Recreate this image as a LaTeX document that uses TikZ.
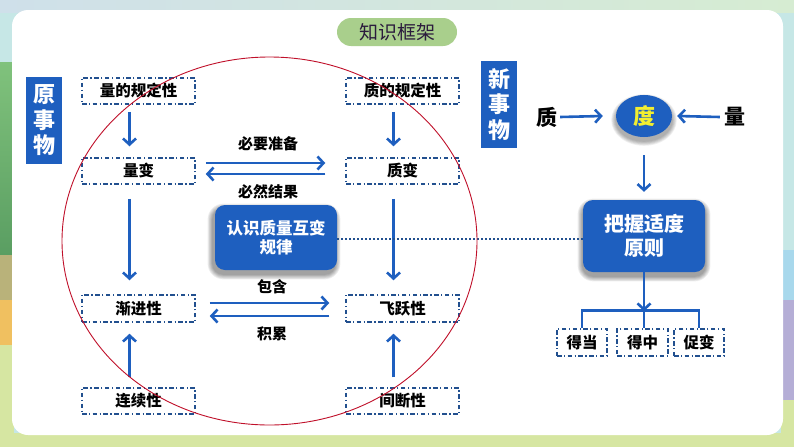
\documentclass[tikz,border=0pt]{standalone}
\usepackage{fontspec}
\setmainfont{Noto Sans CJK SC}[BoldFont={Noto Sans CJK SC Black}]
\usetikzlibrary{arrows.meta,shapes.geometric}

\definecolor{mblue}{HTML}{1E5FBF}
\definecolor{dblue}{HTML}{22508F}
\definecolor{pillc}{HTML}{A9CF8C}
\definecolor{redc}{HTML}{C0102A}
\definecolor{duyel}{HTML}{F2EE30}
\definecolor{titc}{HTML}{2B1B3D}
\definecolor{bgA}{HTML}{C6E7E6}
\definecolor{bgTopL}{HTML}{CFE0EA}
\definecolor{bgTopR}{HTML}{D6ECD2}
\definecolor{grnT}{HTML}{80C27C}
\definecolor{grnB}{HTML}{5A9E62}
\definecolor{tanc}{HTML}{B9B27A}
\definecolor{orac}{HTML}{F0C060}
\definecolor{ylgr}{HTML}{D6E6A2}
\definecolor{lavc}{HTML}{B5AED6}
\definecolor{skyc}{HTML}{A8D8EC}

\begin{document}
\begin{tikzpicture}[x=1pt,y=-1pt,
  dbox/.style={draw=dblue, line width=1.5pt, dash pattern=on 4.5pt off 2.5pt on 1.2pt off 2.5pt,
    minimum width=113pt, minimum height=26pt, inner sep=0pt, font=\bfseries\fontsize{15.5}{18}\selectfont},
  sbox/.style={dbox, minimum width=50pt, minimum height=27pt},
  bbox/.style={fill=mblue, rounded corners=10pt, text=white, align=center, inner sep=0pt, minimum width=122pt},
  arr/.style={draw=mblue, line width=2.6pt, -{Straight Barb[length=6pt,width=13pt]}},
  lbl/.style={font=\bfseries\fontsize{15}{18}\selectfont},
  side/.style={fill=mblue, text=white, align=center, inner sep=0pt, minimum width=36pt, minimum height=87pt,
    font=\bfseries\fontsize{22}{25.5}\selectfont},
  bigch/.style={inner sep=0pt, font=\bfseries\fontsize{21}{24}\selectfont}
]
\useasboundingbox (0,0) rectangle (794,447);

% background frame
\fill[bgA] (0,0) rectangle (794,447);
\shade[left color=bgTopL, right color=bgTopR] (0,0) rectangle (794,12);
\shade[top color=grnT, bottom color=grnB] (0,62) rectangle (14,255);
\fill[tanc] (0,255) rectangle (14,300);
\fill[orac] (0,300) rectangle (14,345);
\fill[ylgr] (0,345) rectangle (14,447);
\fill[ylgr] (0,433) rectangle (794,447);
\fill[skyc] (781,250) rectangle (794,300);
\fill[lavc] (781,300) rectangle (794,400);
\fill[ylgr] (781,400) rectangle (794,447);
\fill[white, rounded corners=16pt] (12,10) rectangle (783,435);

% title and side labels
\node[fill=pillc, rounded corners=14pt, minimum width=120pt, minimum height=28pt, inner sep=0pt,
  text=titc, font=\fontsize{19}{22}\selectfont] (title) at (397,32) {知识框架};
\node[side] (yuan) at (44,120.5) {原\\事\\物};
\node[side] (xin) at (499,104.5) {新\\事\\物};

% dashed boxes
\node[dbox] (q1) at (138.5,91) {量的规定性};
\node[dbox] (q2) at (138.5,171) {量变};
\node[dbox, minimum height=27pt] (q3) at (138.5,308.5) {渐进性};
\node[dbox] (q4) at (138.5,401) {连续性};
\node[dbox] (z1) at (402.5,91) {质的规定性};
\node[dbox] (z2) at (402.5,171) {质变};
\node[dbox, minimum height=27pt] (z3) at (402.5,308.5) {飞跃性};
\node[dbox] (z4) at (402.5,401) {间断性};

% vertical arrows
\draw[arr, shorten <=7pt, shorten >=11pt] ([xshift=-9pt]q1.south) -- ([xshift=-9pt]q2.north);
\draw[arr, shorten <=14pt, shorten >=14pt] ([xshift=-9pt]q2.south) -- ([xshift=-9pt]q3.north);
\draw[arr, shorten <=10pt, shorten >=11pt] ([xshift=-9pt]q4.north) -- ([xshift=-9pt]q3.south);
\draw[arr, shorten <=7pt, shorten >=11pt] ([xshift=-9pt]z1.south) -- ([xshift=-9pt]z2.north);
\draw[arr, shorten <=14pt, shorten >=14pt] ([xshift=-9pt]z2.south) -- ([xshift=-9pt]z3.north);
\draw[arr, shorten <=10pt, shorten >=11pt] ([xshift=-9pt]z4.north) -- ([xshift=-9pt]z3.south);

% horizontal arrows
\draw[arr, shorten <=10pt, shorten >=20pt] ([yshift=8pt]q2.east) -- ([yshift=8pt]z2.west);
\draw[arr, shorten <=20pt, shorten >=10pt] ([yshift=-3pt]z2.west) -- ([yshift=-3pt]q2.east);
\draw[arr, shorten <=14pt, shorten >=16pt] ([yshift=5.5pt]q3.east) -- ([yshift=5.5pt]z3.west);
\draw[arr, shorten <=16pt, shorten >=14pt] ([yshift=-7.5pt]z3.west) -- ([yshift=-7.5pt]q3.east);

\node[lbl] (l1) at (268,144) {必要准备};
\node[lbl] (l2) at (268,192) {必然结果};
\node[lbl] (l3) at (272,287) {包含};
\node[lbl] (l4) at (272,334) {积累};

% soft shadows
\foreach \s in {1,...,6}{
  \fill[black, opacity=0.07, rounded corners=10pt+\s pt]
    (215-\s*0.9-2,205-\s*0.9+4) rectangle (337+\s*0.9-2,270+\s*0.9+4);
  \fill[black, opacity=0.07, rounded corners=10pt+\s pt]
    (583-\s*0.9,200-\s*0.9+4) rectangle (705+\s*0.9,272+\s*0.9+4);
  \fill[black, opacity=0.06] (644,120) ellipse [x radius=28pt+\s*0.8pt, y radius=21pt+\s*0.8pt];
}

% blue boxes
\node[bbox, minimum height=65pt, font=\bfseries\fontsize{16.5}{19.5}\selectfont] (rz) at (276,237.5) {认识质量互变\\规律};
\node[bbox, minimum height=72pt, font=\bfseries\fontsize{20}{23.5}\selectfont] (bw) at (644,236) {把握适度\\原则};
\draw[dblue, line width=2.2pt, dash pattern=on 2pt off 2pt] ([yshift=-1.5pt]rz.east) -- ([yshift=-1.5pt]rz.east -| bw.west);

% degree part
\node[ellipse, fill=mblue, minimum width=56pt, minimum height=42pt, inner sep=0pt, text=duyel,
  font=\bfseries\fontsize{22}{24}\selectfont] (du) at (644,116) {度};
\node[bigch] (zhi) at (547,117) {质};
\node[bigch] (liang) at (735,117) {量};
\draw[arr] ([xshift=2.5pt]zhi.east) -- ([xshift=-13pt]du.west);
\draw[arr] ([xshift=-4.5pt]liang.west) -- ([xshift=5pt]du.east);
\draw[arr, shorten <=18pt, shorten >=8pt] (du.south) -- (bw.north);

% bottom boxes
\node[sbox] (d1) at (582,342.5) {得当};
\node[sbox, minimum width=51pt] (d2) at (642.5,342.5) {得中};
\node[sbox] (d3) at (699,342.5) {促变};
\coordinate (bj) at ([yshift=-38pt]bw.south);
\draw[mblue, line width=2.6pt] (d1.north) |- (bj) -| (d3.north);
\draw[mblue, line width=2.6pt] (bj) -- (bj |- d2.north);
\draw[arr, shorten >=-1pt] (bw.south) -- (bj);

% red ellipse
\draw[redc, line width=0.9pt] (269.5,241) ellipse [x radius=207.5pt, y radius=184pt];
\end{tikzpicture}
\end{document}
